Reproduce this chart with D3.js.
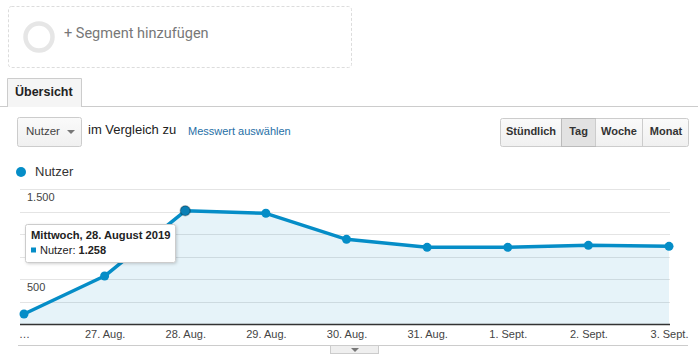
<!DOCTYPE html>
<html><head><meta charset="utf-8">
<script src="https://cdn.jsdelivr.net/npm/d3@7"></script>
<style>
body{margin:0;background:#fff;}
svg{display:block;font-family:Arial,"Liberation Sans",sans-serif;}
</style></head>
<body>
<svg id="c" width="698" height="361"></svg>
<script>
const categories = ["…","27. Aug.","28. Aug.","29. Aug.","30. Aug.","31. Aug.","1. Sept.","2. Sept.","3. Sept."];
const nutzer = [111, 533, 1258, 1230, 941, 852, 852, 874, 863];
const yTicks = [0, 250, 500, 750, 1000, 1250, 1500];
const yTickLabels = {500:"500", 1500:"1.500"};
const buttons = ["Stündlich","Tag","Woche","Monat"];
const tooltipTitle = "Mittwoch, 28. August 2019";
const tooltipIndex = 2;

const svg = d3.select("#c");
const blue = "#058dc7";

// defs
const defs = svg.append("defs");
const g1 = defs.append("linearGradient").attr("id","btn").attr("x1",0).attr("y1",0).attr("x2",0).attr("y2",1);
g1.append("stop").attr("offset","0").attr("stop-color","#fafafa");
g1.append("stop").attr("offset","1").attr("stop-color","#f0f0f0");
const f = defs.append("filter").attr("id","sh").attr("x","-10%").attr("y","-20%").attr("width","130%").attr("height","150%");
f.append("feDropShadow").attr("dx",1).attr("dy",1).attr("stdDeviation",1.5).attr("flood-color","#000").attr("flood-opacity",0.18);

// Segment box
svg.append("rect").attr("x",8.5).attr("y",6.5).attr("width",343).attr("height",61).attr("rx",3)
  .attr("fill","#fff").attr("stroke","#dcdcdc").attr("stroke-dasharray","3,2");
svg.append("circle").attr("cx",39).attr("cy",37).attr("r",13.5).attr("fill","none").attr("stroke","#e6e6e6").attr("stroke-width",4.5);
svg.append("text").attr("x",64).attr("y",34).attr("font-family","Roboto, Arial, sans-serif").attr("font-size",14.5)
  .attr("fill","#777").attr("dominant-baseline","middle").text("+ Segment hinzufügen");

// Tab
svg.append("line").attr("x1",0).attr("x2",698).attr("y1",106.5).attr("y2",106.5).attr("stroke","#ccc");
svg.append("path").attr("d","M7.5,107 V78.5 H81.5 V107").attr("fill","#f5f5f5").attr("stroke","#ccc");
svg.append("text").attr("x",15).attr("y",93).attr("font-size",12.5).attr("font-weight","bold").attr("fill","#222")
  .attr("dominant-baseline","middle").text("Übersicht");

// Dropdown
svg.append("rect").attr("x",17.5).attr("y",117.5).attr("width",64).attr("height",29).attr("rx",2)
  .attr("fill","url(#btn)").attr("stroke","#ccc");
svg.append("text").attr("x",26).attr("y",132).attr("font-size",11.5).attr("fill","#444").attr("dominant-baseline","middle").text("Nutzer");
svg.append("path").attr("d","M67,130 L75,130 L71,134 Z").attr("fill","#777");
svg.append("text").attr("x",88).attr("y",131).attr("font-size",13).attr("fill","#222").attr("dominant-baseline","middle").text("im Vergleich zu");
svg.append("text").attr("x",188).attr("y",132).attr("font-size",11).attr("fill","#1f6fa6").attr("dominant-baseline","middle").text("Messwert auswählen");

// Buttons
const bx = [500, 561, 595, 642, 689];
svg.append("rect").attr("x",500.5).attr("y",118.5).attr("width",188).attr("height",28).attr("rx",2).attr("fill","url(#btn)").attr("stroke","#ccc");
buttons.forEach((b,i)=>{
  if(b==="Tag"){
    svg.append("rect").attr("x",bx[i]+0.5).attr("y",118.5).attr("width",bx[i+1]-bx[i]).attr("height",28)
      .attr("fill","#e2e2e2").attr("stroke","#bbb");
  } else if(i>0){
    svg.append("line").attr("x1",bx[i]+0.5).attr("x2",bx[i]+0.5).attr("y1",119).attr("y2",146).attr("stroke","#ccc");
  }
  svg.append("text").attr("x",(bx[i]+bx[i+1])/2+0.5).attr("y",132.5).attr("text-anchor","middle").attr("dominant-baseline","middle")
    .attr("font-size",11).attr("font-weight","bold").attr("fill","#333").text(b);
});

// Legend
svg.append("circle").attr("cx",21).attr("cy",172).attr("r",5).attr("fill",blue);
svg.append("text").attr("x",35).attr("y",172.5).attr("font-size",13).attr("fill","#333").attr("dominant-baseline","middle").text("Nutzer");

// Scales
const x = d3.scalePoint().domain(categories).range([24, 669]);
const y = d3.scaleLinear().domain([0, 1500]).range([324, 189]);

// Gridlines
svg.append("g").selectAll("line").data(yTicks.filter(t=>t>0)).join("line")
  .attr("x1",20).attr("x2",670).attr("y1",d=>Math.round(y(d))+0.5).attr("y2",d=>Math.round(y(d))+0.5)
  .attr("stroke","#e4e4e4");

// Area
const pts = categories.map((c,i)=>({c, v:nutzer[i]}));
svg.append("path").datum(pts)
  .attr("d", d3.area().x(d=>x(d.c)).y0(y(0)).y1(d=>y(d.v)))
  .attr("fill", blue).attr("fill-opacity",0.1);
svg.append("path").attr("d",`M20,${y(0)} V${y(nutzer[0])} H24 V${y(0)} Z`).attr("fill",blue).attr("fill-opacity",0.1);

// y labels
svg.append("g").selectAll("text").data(yTicks.filter(t=>yTickLabels[t])).join("text")
  .attr("x",27).attr("y",d=>y(d)+9).attr("font-size",11).attr("fill","#444").attr("dominant-baseline","middle")
  .text(d=>yTickLabels[d]);

// Line
svg.append("path").datum(pts)
  .attr("d", d3.line().x(d=>x(d.c)).y(d=>y(d.v)))
  .attr("fill","none").attr("stroke",blue).attr("stroke-width",3.5).attr("stroke-linejoin","round");
svg.append("g").selectAll("circle").data(pts).join("circle")
  .attr("cx",d=>x(d.c)).attr("cy",d=>y(d.v)).attr("r",(d,i)=>i===tooltipIndex?5:4.5)
  .attr("fill",(d,i)=>i===tooltipIndex?"#0a7fb5":blue)
  .attr("stroke",(d,i)=>i===tooltipIndex?"rgba(0,0,0,0.25)":"none").attr("stroke-width",1.5);

// Axis
const xAxis = d3.axisBottom(x).tickSize(0).tickPadding(6);
const ax = svg.append("g").attr("transform",`translate(0,${y(0)})`).call(xAxis);
ax.select(".domain").remove();
ax.selectAll("text").attr("font-size",11).attr("fill","#444").attr("font-family","Arial,'Liberation Sans',sans-serif");
svg.append("line").attr("x1",20).attr("x2",670).attr("y1",y(0)+0.5).attr("y2",y(0)+0.5).attr("stroke","#333").attr("stroke-width",1.5);

// Bottom line and handle
svg.append("line").attr("x1",18).attr("x2",688).attr("y1",345.5).attr("y2",345.5).attr("stroke","#ccc");
svg.append("rect").attr("x",330.5).attr("y",345.5).attr("width",48).attr("height",8).attr("fill","#efefef").attr("stroke","#ccc");
svg.append("path").attr("d","M351,348 L359,348 L355,352 Z").attr("fill","#777");

// Tooltip
const tg = svg.append("g");
tg.append("rect").attr("x",25.5).attr("y",224.5).attr("width",150).attr("height",38).attr("rx",2)
  .attr("fill","#fff").attr("stroke","#ccc").attr("filter","url(#sh)");
tg.append("text").attr("x",31).attr("y",236.5).attr("font-size",11.2).attr("font-weight","bold").attr("fill","#222")
  .attr("dominant-baseline","middle").text(tooltipTitle);
tg.append("rect").attr("x",31).attr("y",247.5).attr("width",5).attr("height",5).attr("fill",blue);
const t2 = tg.append("text").attr("x",40).attr("y",251).attr("font-size",11).attr("fill","#222").attr("dominant-baseline","middle");
t2.append("tspan").text("Nutzer: ");
t2.append("tspan").attr("font-weight","bold").text(d3.format(",")(nutzer[tooltipIndex]).replace(/,/g,"."));
</script>
</body></html>
